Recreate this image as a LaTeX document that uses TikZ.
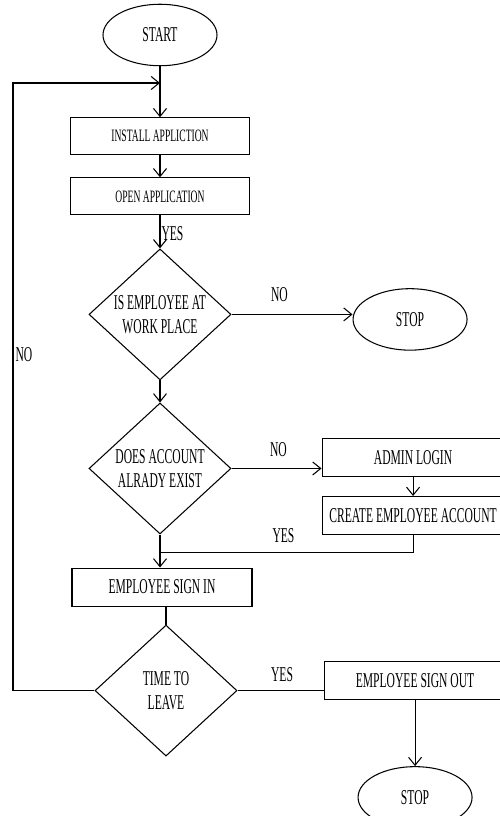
\documentclass[tikz,border=0pt]{standalone}
\usepackage{fontspec}
\setmainfont{Liberation Serif}[FakeStretch=0.55]
\usetikzlibrary{positioning}
\usetikzlibrary{shapes.geometric}
\usetikzlibrary{arrows.meta}

\begin{document}
\begin{tikzpicture}[>={Straight Barb[length=1.6mm,width=2.6mm]}, line width=0.6pt,
	box/.style={draw, rectangle, minimum width=3.6cm, minimum height=0.76cm, inner sep=0pt, font=\fontsize{12}{13.7}\selectfont},
	wide/.style={minimum width=3.64cm},
	smallbox/.style={box, minimum width=3.57cm, minimum height=0.74cm, font=\fontsize{9.9}{11.3}\selectfont},
	term/.style={draw, ellipse, minimum width=2.28cm, minimum height=1.23cm, inner sep=0pt, font=\fontsize{12}{13.7}\selectfont},
	decide/.style={draw, diamond, aspect=1.1, minimum width=2.84cm, minimum height=2.62cm, inner sep=0pt, align=center, font=\fontsize{12}{13.7}\selectfont},
	lbl/.style={inner sep=0pt, font=\fontsize{12}{13.7}\selectfont}]
	\useasboundingbox (0,0) rectangle (10,-16.32);
	\node (start) [term] at (3.2,-0.7) {START};
	\node (install) [smallbox, below=1.02cm of start] {INSTALL APPLICTION};
	\node (open) [smallbox, below=0.44cm of install] {OPEN APPLICATION};
	\node (work) [decide, below=0.66cm of open] {IS EMPLOYEE AT\\WORK PLACE};
	\node (stop1) [term, right=2.42cm of work, yshift=-0.1cm] {STOP};
	\node (exist) [decide, below=0.44cm of work] {DOES ACCOUNT\\ALRADY EXIST};
	\node (admin) [box, wide, right=1.8cm of exist, yshift=0.22cm] {ADMIN LOGIN};
	\node (create) [box, wide, below=0.38cm of admin] {CREATE EMPLOYEE ACCOUNT};
	\node (signin) [box, below=0.66cm of exist, xshift=0.04cm] {EMPLOYEE SIGN IN};
	\node (leave) [decide, below=0.36cm of signin, xshift=0.08cm] {TIME TO\\LEAVE};
	\node (signout) [box, wide, right=1.72cm of leave, yshift=0.2cm] {EMPLOYEE SIGN OUT};
	\node (stop2) [term, below=1.32cm of signout] {STOP};
	\coordinate (back) at (0.26,-1.66);
	\coordinate [below=0.36cm of exist] (join);

	\node (yes1) [lbl, below right=0.22cm and 0.02cm of open.south] {YES};
	\node (no1) [lbl, above right=0.24cm and 0.78cm of work.east] {NO};
	\node (no2) [lbl, above right=0.22cm and 0.76cm of exist.east] {NO};
	\node (yes2) [lbl, above right=0.18cm and 2.24cm of join] {YES};
	\node (yes3) [lbl, above right=0.16cm and 0.66cm of leave.east] {YES};
	\node (no3) [lbl, anchor=south west] at (0.3,-7.24) {NO};

	\draw[->] (start) -- (install);
	\draw[->] (install) -- (open);
	\draw[->] (open) -- (work);
	\draw[->] (work.east) -- (work.east -| stop1.west);
	\draw[->] (work) -- (exist);
	\draw[->] (exist.east) -- (exist.east -| admin.west);
	\draw[->] (admin) -- (create);
	\draw (exist) -- (join);
	\draw (create.south) |- (join);
	\draw[->] (join) -- (join |- signin.north);
	\draw (signin.south -| leave.north) -- (leave.north);
	\draw (leave.east) -- (leave.east -| signout.west);
	\draw[->] (signout) -- (stop2);
	\draw[->] (leave.west) -| (back) -- (back -| start.south);
\end{tikzpicture}
\end{document}
